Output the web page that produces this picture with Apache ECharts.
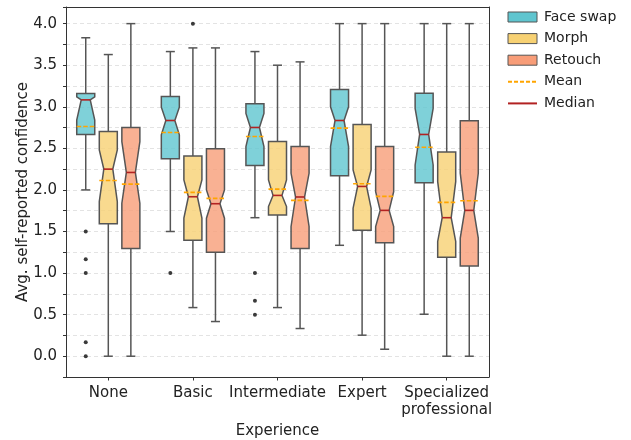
<!DOCTYPE html>
<html>
<head>
<meta charset="utf-8">
<script src="https://cdn.jsdelivr.net/npm/echarts@6/dist/echarts.min.js"></script>
<style>
  html, body { margin: 0; padding: 0; background: #fff; }
  #chart { width: 631px; height: 440px; }
</style>
</head>
<body>
<div id="chart"></div>
<script>
// ---------------- DATA ----------------
const categories = ['None', 'Basic', 'Intermediate', 'Expert', 'Specialized\nprofessional'];
const seriesNames = ['Face swap', 'Morph', 'Retouch'];
const yTickLabels = ['0.0', '0.5', '1.0', '1.5', '2.0', '2.5', '3.0', '3.5', '4.0'];

// Each row (one per category): [whiskerLow, q1, notchLow, median, notchHigh, q3, whiskerHigh, mean]
const faceSwapStats = [
  [2.000, 2.667, 2.840, 3.083, 3.120, 3.160, 3.830, 2.763],
  [1.500, 2.375, 2.663, 2.835, 2.995, 3.124, 3.664, 2.691],
  [1.666, 2.295, 2.520, 2.751, 2.920, 3.035, 3.664, 2.643],
  [1.334, 2.170, 2.520, 2.835, 3.000, 3.208, 4.000, 2.743],
  [0.505, 2.087, 2.300, 2.667, 2.980, 3.164, 4.000, 2.513]
];
const morphStats = [
  [0.000, 1.594, 1.860, 2.250, 2.480, 2.703, 3.628, 2.114],
  [0.585, 1.394, 1.660, 1.918, 2.120, 2.407, 3.708, 1.970],
  [0.585, 1.698, 1.800, 1.934, 2.120, 2.583, 3.500, 2.010],
  [0.253, 1.514, 1.780, 2.042, 2.240, 2.787, 4.000, 2.074],
  [0.000, 1.190, 1.380, 1.666, 2.100, 2.455, 4.000, 1.850]
];
const retouchStats = [
  [0.000, 1.294, 1.840, 2.210, 2.580, 2.751, 4.000, 2.070],
  [0.417, 1.250, 1.660, 1.834, 2.000, 2.495, 3.708, 1.898],
  [0.333, 1.294, 1.560, 1.915, 2.200, 2.523, 3.540, 1.874],
  [0.084, 1.366, 1.560, 1.754, 1.980, 2.523, 4.000, 1.922],
  [0.000, 1.086, 1.420, 1.754, 2.200, 2.831, 4.000, 1.870]
];
// outliers: [categoryIndex, value]
const faceSwapOutliers = [[0, 1.5], [0, 1.167], [0, 1.0], [0, 0.167], [0, 0.0], [1, 1.0], [2, 1.0], [2, 0.667], [2, 0.5]];
const morphOutliers = [[1, 4.0]];
const retouchOutliers = [];

// ---------------- STYLE ----------------
const FONT = 'DejaVu Sans';
const legendColors = ['#5fc5cf', '#f7d173', '#f89d78'];
const boxOffsets = [-0.2667, 0, 0.2667];   // fraction of category band
const BOX_W = 0.213;                         // fraction of category band
const EDGE = '#555555';
const MEDIAN_COLOR = '#b22222';
const MEAN_COLOR = '#ffa500';

function boxRenderer(colorIdx) {
  return function (params, api) {
    const cat = api.value(0);
    const band = api.size([1, 0])[0];
    const cx = api.coord([cat, 0])[0] + band * boxOffsets[colorIdx];
    const hw = band * BOX_W / 2;
    const cw = hw / 2;
    const Y = (i) => api.coord([cat, api.value(i)])[1];
    const wlo = Y(1), q1 = Y(2), clo = Y(3), med = Y(4), chi = Y(5), q3 = Y(6), whi = Y(7), mean = Y(8);
    const L = cx - hw, R = cx + hw;
    const lineStyle = { stroke: EDGE, lineWidth: 1.5 };
    return {
      type: 'group',
      children: [
        { type: 'line', shape: { x1: cx, y1: q1, x2: cx, y2: wlo }, style: lineStyle, z2: 1 },
        { type: 'line', shape: { x1: cx, y1: q3, x2: cx, y2: whi }, style: lineStyle, z2: 1 },
        { type: 'line', shape: { x1: cx - cw, y1: wlo, x2: cx + cw, y2: wlo }, style: lineStyle, z2: 1 },
        { type: 'line', shape: { x1: cx - cw, y1: whi, x2: cx + cw, y2: whi }, style: lineStyle, z2: 1 },
        {
          type: 'polygon',
          shape: { points: [[L, q1], [R, q1], [R, clo], [cx + cw, med], [R, chi], [R, q3], [L, q3], [L, chi], [cx - cw, med], [L, clo]] },
          style: { fill: legendColors[colorIdx], opacity: 1, fillOpacity: 0.8, stroke: EDGE, lineWidth: 1.5, lineJoin: 'miter' },
          z2: 2
        },
        { type: 'line', shape: { x1: cx - cw, y1: med, x2: cx + cw, y2: med }, style: { stroke: MEDIAN_COLOR, lineWidth: 1.6 }, z2: 3 },
        { type: 'line', shape: { x1: L, y1: mean, x2: R, y2: mean }, style: { stroke: MEAN_COLOR, lineWidth: 1.6, lineDash: [4.5, 2] }, z2: 4 }
      ]
    };
  };
}

function outlierRenderer(colorIdx) {
  return function (params, api) {
    const cat = api.value(0);
    const band = api.size([1, 0])[0];
    const p = api.coord([cat, api.value(1)]);
    return { type: 'circle', shape: { cx: p[0] + band * boxOffsets[colorIdx], cy: p[1], r: 2 }, style: { fill: '#3a3a3a' } };
  };
}

const statSets = [faceSwapStats, morphStats, retouchStats];
const outlierSets = [faceSwapOutliers, morphOutliers, retouchOutliers];

const series = [];
statSets.forEach((stats, k) => {
  series.push({
    name: seriesNames[k],
    type: 'custom',
    renderItem: boxRenderer(k),
    itemStyle: { color: legendColors[k], borderColor: EDGE },
    encode: { x: 0, y: [1, 2, 3, 4, 5, 6, 7, 8] },
    data: stats.map((row, i) => [i].concat(row)),
    z: 3
  });
  if (outlierSets[k].length) {
    series.push({
      name: seriesNames[k] + ' outliers',
      type: 'custom',
      renderItem: outlierRenderer(k),
      encode: { x: 0, y: 1 },
      data: outlierSets[k],
      z: 3
    });
  }
});
series.push({ name: 'Mean', type: 'line', data: [], symbol: 'none', lineStyle: { color: MEAN_COLOR, type: [4, 2], width: 1.6 }, itemStyle: { color: MEAN_COLOR } });
series.push({ name: 'Median', type: 'line', data: [], symbol: 'none', lineStyle: { color: MEDIAN_COLOR, width: 1.6 }, itemStyle: { color: MEDIAN_COLOR } });

const frameLine = { show: true, onZero: false, lineStyle: { color: '#333', width: 1 } };
const hiddenAxisParts = { axisTick: { show: false }, axisLabel: { show: false }, splitLine: { show: false } };
const invisibleItem = { color: 'rgba(0,0,0,0)', borderColor: 'rgba(0,0,0,0)', borderWidth: 0 };

const chart = echarts.init(document.getElementById('chart'), null, { renderer: 'canvas' });
chart.setOption({
  animation: false,
  backgroundColor: '#ffffff',
  textStyle: { fontFamily: FONT },
  grid: { left: 66, right: 142, top: 7, bottom: 63, show: false, containLabel: false, outerBoundsMode: 'none' },
  legend: {
    orient: 'vertical',
    left: 502,
    top: 5,
    itemWidth: 29,
    itemHeight: 10,
    itemGap: 7.6,
    textStyle: { fontSize: 14, color: '#222', fontFamily: FONT, padding: [0, 0, 0, 2] },
    data: [
      { name: 'Face swap', icon: 'rect', itemStyle: { color: legendColors[0], borderColor: EDGE, borderWidth: 1 } },
      { name: 'Morph', icon: 'rect', itemStyle: { color: legendColors[1], borderColor: EDGE, borderWidth: 1 } },
      { name: 'Retouch', icon: 'rect', itemStyle: { color: legendColors[2], borderColor: EDGE, borderWidth: 1 } },
      { name: 'Mean', itemStyle: invisibleItem },
      { name: 'Median', itemStyle: invisibleItem }
    ]
  },
  xAxis: [{
    type: 'category',
    data: categories,
    boundaryGap: true,
    axisLine: frameLine,
    axisTick: { show: true, alignWithLabel: true, length: 3.5, lineStyle: { color: '#333' } },
    axisLabel: { fontSize: 15, color: '#222', fontFamily: FONT, margin: 8, lineHeight: 17, interval: 0 },
    splitLine: { show: false },
    name: 'Experience',
    nameLocation: 'middle',
    nameGap: 47,
    nameMoveOverlap: false,
    nameTextStyle: { fontSize: 15, color: '#222', fontFamily: FONT }
  }, Object.assign({
    type: 'category', data: categories, position: 'top', axisLine: frameLine
  }, hiddenAxisParts)],
  yAxis: [{
    type: 'value',
    min: -0.25,
    max: 4.2,
    interval: 0.25,
    axisLine: frameLine,
    axisTick: { show: true, length: 3, lineStyle: { color: '#333' } },
    axisLabel: {
      fontSize: 15, color: '#222', fontFamily: FONT, margin: 9,
      formatter: function (v) {
        const s = (Math.round(v * 100) / 100).toFixed(1);
        return yTickLabels.indexOf(s) >= 0 && Math.abs(v * 2 - Math.round(v * 2)) < 1e-6 ? s : '';
      }
    },
    splitLine: { show: true, lineStyle: { color: '#e3e3e3', width: 1, type: [4, 3] } },
    name: 'Avg. self-reported confidence',
    nameLocation: 'middle',
    nameGap: 35,
    nameMoveOverlap: false,
    nameTextStyle: { fontSize: 15, color: '#222', fontFamily: FONT }
  }, Object.assign({
    type: 'value', min: -0.25, max: 4.2, interval: 0.25, position: 'right', axisLine: frameLine
  }, hiddenAxisParts)],
  series: series
});
</script>
</body>
</html>
